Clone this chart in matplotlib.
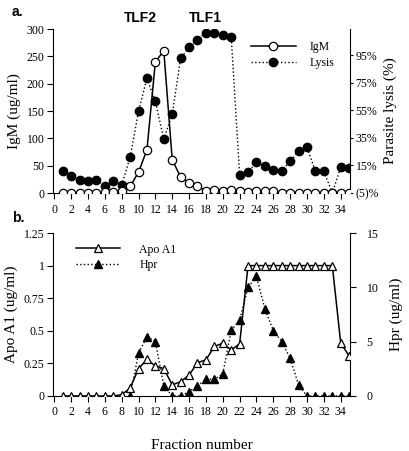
import matplotlib
matplotlib.use("Agg")
import matplotlib.pyplot as plt
import numpy as np

fractions = list(range(1, 36))
igm = [0, 0, 0, 0, 0, 1, 1, 4, 12, 38, 79, 240, 260, 61, 29, 18, 12, 4, 6, 4,
       5, 4, 1, 4, 4, 3, 0, 0, 0, 0, 0, 0, 0, 0, 0]
lysis = [11.2, 7.1, 4.7, 3.9, 4.7, -0.2, 3.9, 0.8, 20.9, 54.2, 78.3, 61.4, 34.1,
         52.2, 92.8, 100.6, 106.1, 111.4, 111.4, 109.3, 108.5, 8.3, 10.0, 17.2,
         14.8, 11.9, 11.2, 18.0, 25.2, 28.1, 10.7, 10.7, -5.0, 13.6, 13.1]
apo_a1 = [0, 0, 0, 0, 0, 0, 0, 0.01, 0.06, 0.21, 0.28, 0.23, 0.21, 0.085, 0.11,
          0.16, 0.256, 0.277, 0.38, 0.405, 0.353, 0.40, 1, 1, 1, 1, 1, 1, 1, 1,
          1, 1, 1, 0.405, 0.307]
hpr_fractions = list(range(9, 36))
hpr = [0, 3.93, 5.47, 5.0, 0.92, 0, 0, 0.4, 0.92, 1.54, 1.54, 2.03, 6.03, 7.0,
       10.0, 11.0, 8.0, 6.0, 5.0, 3.47, 1.0, 0, 0, 0, 0, 0, 0]

xticks = list(range(0, 35, 2))
lysis_ticks = [-5, 15, 35, 55, 75, 95]
lysis_labels = ["(5)%", "15%", "35%", "55%", "75%", "95%"]

serif = "Liberation Serif"
sans = "Liberation Sans"
plt.rcParams['font.family'] = serif
plt.rcParams['font.size'] = 8.5

fig = plt.figure(figsize=(4.10, 4.51), dpi=100)
W, H = 410, 451

def box(l, t, r, b):
    return [l / W, 1 - b / H, (r - l) / W, (b - t) / H]

XL = (-0.15, 35.1)

# ---------- panel a ----------
ax = fig.add_axes(box(53, 29, 350, 193))
ax2 = ax.twinx()
ax.plot(fractions, igm, '-', color='black', lw=1.1, marker='o', ms=6,
        mfc='white', mec='black', mew=0.9, label='IgM', zorder=3)
ax2.plot(fractions, lysis, ':', color='black', lw=1.0, marker='o', ms=6,
         mfc='black', mec='black', label='Lysis', zorder=2)
ax.set_xlim(*XL)
ax.set_ylim(0, 300)
ax2.set_ylim(-5, 114)
ax.set_yticks([0, 50, 100, 150, 200, 250, 300])
ax2.set_yticks(lysis_ticks)
ax2.set_yticklabels(lysis_labels)
ax.set_xticks(xticks)
for a in (ax, ax2):
    a.spines['top'].set_visible(False)
    a.tick_params(direction='out', length=4, width=0.8, pad=2)
ax.tick_params(axis='x', pad=4)
ax2.tick_params(length=2, pad=2)
ax.spines['right'].set_visible(False)
ax2.spines['left'].set_visible(False)
ax2.spines['bottom'].set_visible(False)
ax.set_ylabel("IgM (ug/ml)", fontsize=11, labelpad=4)
ax2.set_ylabel("Parasite lysis (%)", fontsize=11, labelpad=3)
ax.set_zorder(ax2.get_zorder() + 1)
ax.patch.set_visible(False)

h1, l1 = ax.get_legend_handles_labels()
h2, l2 = ax2.get_legend_handles_labels()
ax.legend(h1 + h2, l1 + l2, loc='upper left', bbox_to_anchor=(0.63, 0.99),
          frameon=False, handlelength=3.8, fontsize=8.5, labelspacing=0.3,
          handletextpad=1.2)

fig.text(12 / W, 1 - 12 / H, "a.", fontfamily=sans, fontweight='bold',
         fontsize=10, va='center')
fig.text(140 / W, 1 - 18 / H, "TLF2", fontfamily=sans, fontweight='bold',
         fontsize=10, va='center', ha='center')
fig.text(205 / W, 1 - 18 / H, "TLF1", fontfamily=sans, fontweight='bold',
         fontsize=10, va='center', ha='center')

# ---------- panel b ----------
bx = fig.add_axes(box(53, 233, 350, 396))
bx2 = bx.twinx()
bx.plot(fractions, apo_a1, '-', color='black', lw=1.1, marker='^', ms=6,
        mfc='white', mec='black', mew=0.9, label='Apo A1', zorder=3)
bx2.plot(hpr_fractions, hpr, ':', color='black', lw=1.0, marker='^', ms=6,
         mfc='black', mec='black', label='Hpr', zorder=2)
bx.set_xlim(*XL)
bx.set_ylim(0, 1.25)
bx2.set_ylim(0, 15)
bx.set_yticks([0, 0.25, 0.5, 0.75, 1, 1.25])
bx.set_yticklabels(["0", "0.25", "0.5", "0.75", "1", "1.25"])
bx2.set_yticks([0, 5, 10, 15])
bx.set_xticks(xticks)
for a in (bx, bx2):
    a.spines['top'].set_visible(False)
    a.tick_params(direction='out', length=4, width=0.8, pad=2)
bx.tick_params(axis='x', pad=3)
bx2.tick_params(pad=8)
bx.spines['right'].set_visible(False)
bx2.spines['left'].set_visible(False)
bx2.spines['bottom'].set_visible(False)
bx.set_ylabel("Apo A1 (ug/ml)", fontsize=11, labelpad=4)
bx2.set_ylabel("Hpr (ug/ml)", fontsize=11, labelpad=8)
bx.set_xlabel("Fraction number", fontsize=11, labelpad=15)
bx.set_zorder(bx2.get_zorder() + 1)
bx.patch.set_visible(False)

h1, l1 = bx.get_legend_handles_labels()
h2, l2 = bx2.get_legend_handles_labels()
bx.legend(h1 + h2, l1 + l2, loc='upper left', bbox_to_anchor=(0.04, 1.0),
          frameon=False, handlelength=3.8, fontsize=8.5, labelspacing=0.3,
          handletextpad=1.6)

fig.text(12 / W, 1 - 218 / H, "b.", fontfamily=sans, fontweight='bold',
         fontsize=10, va='center')

fig.savefig("out.png", dpi=100)
